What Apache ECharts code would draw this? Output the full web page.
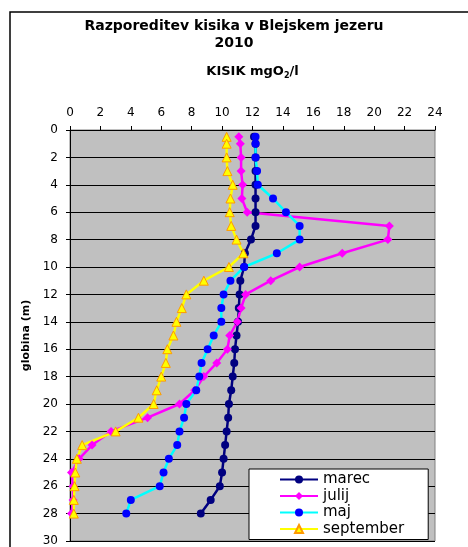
<!DOCTYPE html>
<html>
<head>
<meta charset="utf-8">
<title>Razporeditev kisika</title>
<script src="https://cdn.jsdelivr.net/npm/echarts@6/dist/echarts.min.js"></script>
<style>
  html, body { margin: 0; padding: 0; background: #fff; }
  #chart { width: 468px; height: 547px; }
</style>
</head>
<body>
<div id="chart"></div>
<script>
  // globina (m)
  var depths = [0.5, 1, 2, 3, 4, 5, 6, 7, 8, 9, 10, 11, 12, 13, 14, 15, 16, 17, 18, 19, 20, 21, 22, 23, 24, 25, 26, 27, 28];
  // kisik mgO2/l po mesecih
  var marec = [12.1, 12.2, 12.2, 12.2, 12.2, 12.2, 12.2, 12.2, 11.9, 11.5, 11.45, 11.2, 11.15, 11.1, 11.05, 10.95, 10.85, 10.8, 10.7, 10.6, 10.45, 10.4, 10.3, 10.2, 10.1, 10.0, 9.85, 9.25, 8.6];
  var julij = [11.1, 11.2, 11.25, 11.25, 11.35, 11.3, 11.65, 21.0, 20.9, 17.9, 15.1, 13.2, 11.55, 11.25, 11.0, 10.5, 10.35, 9.65, 8.8, 8.2, 7.2, 5.1, 2.7, 1.45, 0.6, 0.1, 0.2, 0.2, 0.1];
  var maj = [12.2, 12.2, 12.2, 12.3, 12.35, 13.35, 14.2, 15.1, 15.1, 13.6, 11.45, 10.55, 10.1, 9.95, 9.95, 9.45, 9.05, 8.65, 8.5, 8.3, 7.65, 7.5, 7.2, 7.05, 6.5, 6.15, 5.9, 4.0, 3.7];
  var september = [10.3, 10.3, 10.3, 10.35, 10.7, 10.55, 10.5, 10.6, 10.95, 11.4, 10.45, 8.8, 7.65, 7.35, 7.0, 6.8, 6.4, 6.3, 6.0, 5.7, 5.5, 4.5, 3.0, 0.8, 0.45, 0.35, 0.3, 0.25, 0.25];
  var seriesNames = ['marec', 'julij', 'maj', 'september'];

  function pairs(values) {
    return values.map(function (v, i) { return [v, depths[i]]; });
  }

  var font = 'DejaVu Sans';
  var chart = echarts.init(document.getElementById('chart'));

  var option = {
    animation: false,
    backgroundColor: '#fff',
    title: {
      text: 'Razporeditev kisika v Blejskem jezeru\n2010',
      left: 'center',
      top: 18,
      padding: [0, 0, 0, 16],
      textStyle: {
        fontFamily: font,
        fontSize: 14,
        fontWeight: 'bold',
        color: '#000',
        lineHeight: 17
      }
    },
    grid: {
      left: 70,
      top: 130,
      right: 33,
      bottom: 6,
      show: true,
      backgroundColor: '#c0c0c0',
      borderColor: '#808080',
      borderWidth: 1
    },
    legend: {
      orient: 'vertical',
      left: 249,
      top: 469,
      data: seriesNames,
      backgroundColor: '#fff',
      borderColor: '#000',
      borderWidth: 1,
      padding: [3, 24, 3, 30],
      itemWidth: 38,
      itemHeight: 10,
      itemGap: 1.5,
      textStyle: {
        fontFamily: font,
        fontSize: 15,
        lineHeight: 15,
        color: '#000'
      }
    },
    xAxis: {
      type: 'value',
      position: 'top',
      min: 0,
      max: 24,
      interval: 2,
      name: 'KISIK mgO{sub|2}/l',
      nameLocation: 'middle',
      nameGap: 50,
      nameTextStyle: {
        fontFamily: font,
        fontSize: 13,
        fontWeight: 'bold',
        color: '#000',
        rich: {
          sub: { fontFamily: font, fontSize: 8, fontWeight: 'bold', color: '#000', padding: [9, 0, 0, 0] }
        }
      },
      axisLine: { show: true, lineStyle: { color: '#000', width: 1 } },
      axisTick: { show: true, length: 4, lineStyle: { color: '#000' } },
      axisLabel: { margin: 11, fontFamily: font, fontSize: 12, color: '#000' },
      splitLine: { show: false }
    },
    yAxis: {
      type: 'value',
      inverse: true,
      min: 0,
      max: 30,
      interval: 2,
      name: 'globina (m)',
      nameLocation: 'middle',
      nameGap: 38,
      nameTextStyle: {
        fontFamily: font,
        fontSize: 11,
        fontWeight: 'bold',
        color: '#000'
      },
      axisLine: { show: true, lineStyle: { color: '#000', width: 1 } },
      axisTick: { show: true, length: 4, lineStyle: { color: '#000' } },
      axisLabel: { margin: 12, fontFamily: font, fontSize: 12, color: '#000' },
      splitLine: { show: true, lineStyle: { color: '#000', width: 1 } }
    },
    graphic: [{
      // okvir grafa (levo in zgoraj)
      type: 'polyline',
      shape: { points: [[10, 547], [10, 12], [468, 12]] },
      style: { stroke: '#000', lineWidth: 1.5, fill: null },
      silent: true
    }],
    series: [{
      name: 'marec',
      type: 'line',
      data: pairs(marec),
      symbol: 'circle',
      symbolSize: 8,
      itemStyle: { color: '#000080' },
      lineStyle: { color: '#000080', width: 2.5 }
    }, {
      name: 'julij',
      type: 'line',
      data: pairs(julij),
      symbol: 'diamond',
      symbolSize: 9,
      itemStyle: { color: '#ff00ff' },
      lineStyle: { color: '#ff00ff', width: 2.5 }
    }, {
      name: 'maj',
      type: 'line',
      data: pairs(maj),
      symbol: 'circle',
      symbolSize: 8,
      itemStyle: { color: '#0000ff' },
      lineStyle: { color: '#00ffff', width: 2.5 }
    }, {
      name: 'september',
      type: 'line',
      data: pairs(september),
      symbol: 'triangle',
      symbolSize: 9,
      itemStyle: { color: '#ffff00', borderColor: '#ff9900', borderWidth: 1 },
      lineStyle: { color: '#ffff00', width: 2.5 }
    }]
  };

  chart.setOption(option);
</script>
</body>
</html>
